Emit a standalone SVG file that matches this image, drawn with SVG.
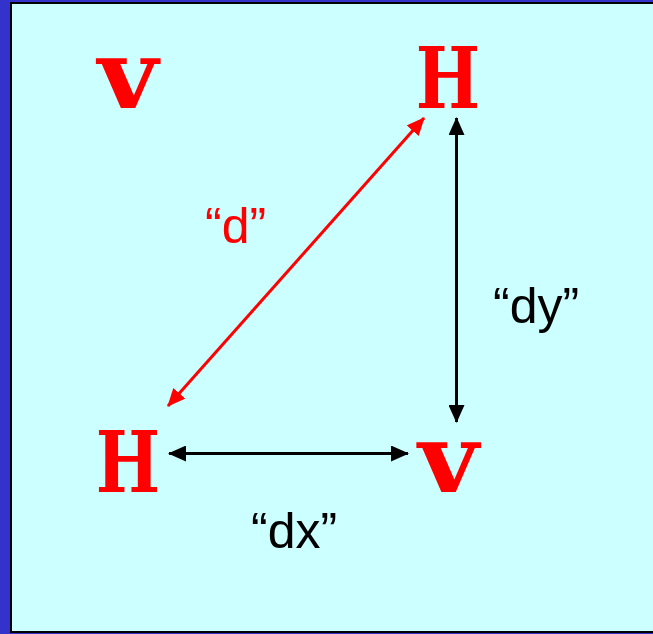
<svg xmlns="http://www.w3.org/2000/svg" width="653" height="634" viewBox="0 0 653 634">
<style>
.node{font-family:"DejaVu Serif","Liberation Serif",serif;font-weight:bold;fill:#FF0000}
.hh{font-size:84px}
.vv{font-size:96px}
.lbl{font-family:"Liberation Sans",Arial,sans-serif;font-size:50px}
.blk{stroke:#000;stroke-width:3;fill:none}
.red{stroke:#FF0000;stroke-width:3;fill:none}
</style>
<defs>
<marker id="ab" markerUnits="userSpaceOnUse" markerWidth="18" markerHeight="16" refX="17" refY="8" orient="auto-start-reverse" viewBox="0 0 18 16"><path d="M0,0 L18,8 L0,16 Z" fill="#000"/></marker>
<marker id="ar" markerUnits="userSpaceOnUse" markerWidth="18" markerHeight="16" refX="17" refY="8" orient="auto-start-reverse" viewBox="0 0 18 16"><path d="M0,0 L18,8 L0,16 Z" fill="#FF0000"/></marker>
</defs>
<rect x="0" y="0" width="653" height="634" fill="#3333CC"/>
<rect x="11" y="3" width="660" height="629" fill="#CCFFFF" stroke="#000" stroke-width="2"/>
<g id="connectors">
<line class="red" x1="424" y1="118" x2="168" y2="406" marker-start="url(#ar)" marker-end="url(#ar)"/>
<line class="blk" x1="456.5" y1="118" x2="456.5" y2="422" marker-start="url(#ab)" marker-end="url(#ab)"/>
<line class="blk" x1="169" y1="453.5" x2="408" y2="453.5" marker-start="url(#ab)" marker-end="url(#ab)"/>
</g>
<g id="v1"><text class="node vv" transform="translate(128,108) scale(1.08,1)" text-anchor="middle">v</text></g>
<g id="h1"><text class="node hh" transform="translate(448,108) scale(0.81,1)" text-anchor="middle">H</text></g>
<g id="h2"><text class="node hh" transform="translate(128,492) scale(0.81,1)" text-anchor="middle">H</text></g>
<g id="v2"><text class="node vv" transform="translate(448.5,492) scale(1.08,1)" text-anchor="middle">v</text></g>
<g id="labels">
<text class="lbl" x="205" y="243" fill="#FF0000">“d”</text>
<text class="lbl" x="493" y="323" fill="#000">“dy”</text>
<text class="lbl" x="251" y="548" fill="#000">“dx”</text>
</g>
</svg>
